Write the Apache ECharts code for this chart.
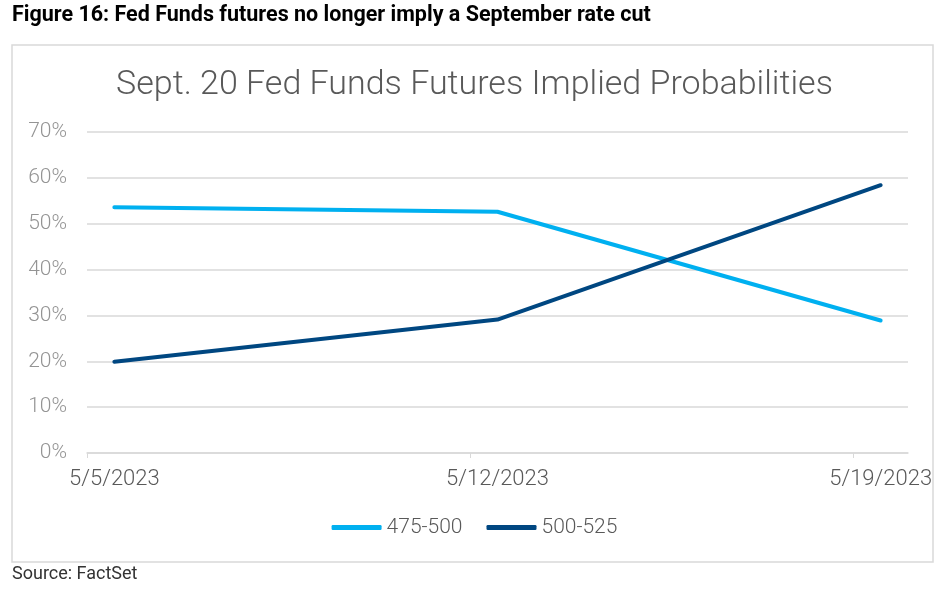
<!DOCTYPE html>
<html>
<head>
<meta charset="utf-8">
<script src="https://cdn.jsdelivr.net/npm/echarts@6/dist/echarts.min.js"></script>
<style>
html,body{margin:0;padding:0;background:#fff;}
#c{width:949px;height:598px;}
</style>
</head>
<body>
<div id="c"></div>
<script>
const dates = ['5/5/2023', '5/12/2023', '5/19/2023'];
const series475 = [53.6, 52.6, 28.9];
const series525 = [19.9, 29.1, 58.4];
const seriesNames = ['475-500', '500-525'];
const yTicks = [0, 10, 20, 30, 40, 50, 60, 70];

const t0 = Date.parse(dates[0]);
const days = dates.map(d => Math.round((Date.parse(d) - t0) / 86400000));
const labelByDay = {};
days.forEach((d, i) => { labelByDay[d] = dates[i]; });

const chart = echarts.init(document.getElementById('c'), null, {renderer: 'canvas'});
const FONT = 'Roboto';
chart.setOption({
  animation: false,
  backgroundColor: '#fff',
  title: {
    text: 'Sept. 20 Fed Funds Futures Implied Probabilities',
    left: 'center',
    top: 63,
    textStyle: {fontFamily: FONT, fontWeight: 300, fontSize: 34, color: '#595959'}
  },
  graphic: [
    {type: 'text', left: 12, top: 5, style: {text: 'Figure 16: Fed Funds futures no longer imply a September rate cut', fontFamily: FONT, fontWeight: 'bold', fontSize: 21.5, fill: '#000'}},
    {type: 'rect', shape: {x: 12, y: 45, width: 921, height: 517}, style: {fill: 'none', stroke: '#d9d9d9', lineWidth: 1.5}, silent: true},
    {type: 'text', left: 12, top: 565, style: {text: 'Source: FactSet', fontFamily: FONT, fontSize: 18, fill: '#333'}}
  ],
  legend: {
    left: 'center',
    top: 512,
    icon: 'roundRect',
    itemWidth: 50,
    itemHeight: 5,
    itemGap: 24,
    textStyle: {fontFamily: FONT, fontWeight: 300, fontSize: 21, color: '#595959'},
    data: seriesNames
  },
  grid: {left: 87, right: 41, top: 132, bottom: 145, containLabel: false},
  xAxis: {
    type: 'value',
    min: -0.5,
    max: days[days.length - 1] + 0.5,
    axisLine: {show: true, lineStyle: {color: '#d9d9d9', width: 1.5}},
    axisTick: {show: true, length: 5, lineStyle: {color: '#d9d9d9'}, customValues: days.map(d => d - 0.5)},
    splitLine: {show: false},
    axisLabel: {
      customValues: days,
      formatter: v => labelByDay[Math.round(v)] || '',
      fontFamily: FONT, fontWeight: 300, fontSize: 22, color: '#595959', margin: 15
    }
  },
  yAxis: {
    type: 'value',
    min: yTicks[0],
    max: yTicks[yTicks.length - 1],
    interval: 10,
    axisLine: {show: false},
    axisTick: {show: false},
    splitLine: {lineStyle: {color: '#d9d9d9', width: 1.5}},
    axisLabel: {formatter: '{value}%', fontFamily: FONT, fontWeight: 300, fontSize: 21, color: '#949494', margin: 20}
  },
  series: [
    {name: seriesNames[0], type: 'line', data: days.map((d, i) => [d, series475[i]]), symbol: 'none', itemStyle: {color: '#00b0f0'}, lineStyle: {width: 4, color: '#00b0f0', cap: 'round', join: 'round'}},
    {name: seriesNames[1], type: 'line', data: days.map((d, i) => [d, series525[i]]), symbol: 'none', itemStyle: {color: '#004781'}, lineStyle: {width: 4, color: '#004781', cap: 'round', join: 'round'}}
  ]
});
</script>
</body>
</html>
